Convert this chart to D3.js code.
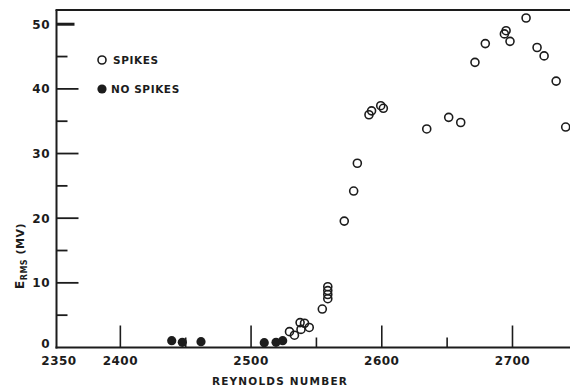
<!DOCTYPE html>
<html>
<head>
<meta charset="utf-8">
<script src="https://cdn.jsdelivr.net/npm/d3@7"></script>
<style>
  body { margin: 0; background: #fff; }
  svg text { font-family: "DejaVu Sans", sans-serif; font-weight: bold; fill: #1c1c1c; }
</style>
</head>
<body>
<svg id="chart" width="570" height="387"></svg>
<script>
// Reynolds number / E_rms (mV)
const spikesRe = [2529.4, 2533.2, 2537.5, 2538.2, 2540.9, 2544.5, 2554.5, 2558.7, 2558.7, 2558.7, 2558.7,
  2571.3, 2578.5, 2581.3, 2590.2, 2592.2, 2599.2, 2601.2, 2634.4, 2651.2, 2660.4, 2671.3, 2679.2,
  2693.8, 2695.1, 2698.1, 2710.4, 2718.8, 2724.2, 2733.4, 2740.7];
const spikesE = [2.45, 1.9, 3.85, 2.8, 3.75, 3.1, 5.95, 9.4, 8.8, 8.2, 7.55,
  19.55, 24.2, 28.5, 36.0, 36.6, 37.4, 37.0, 33.8, 35.6, 34.8, 44.1, 47.0,
  48.5, 49.0, 47.35, 50.96, 46.4, 45.1, 41.2, 34.1];
const noSpikesRe = [2439.3, 2447.4, 2461.7, 2510.1, 2519.1, 2524.2];
const noSpikesE = [1.05, 0.8, 0.9, 0.75, 0.8, 1.05];

const xMajor = [2350, 2400, 2500, 2600, 2700];
const xMinor = [2450, 2550, 2650];
const yMajor = [0, 10, 20, 30, 40, 50];
const yMinor = [5, 15, 25, 35, 45];

const ink = "#1c1c1c";
const svg = d3.select("#chart");

const x = d3.scaleLinear().domain([2350, 2744]).range([55, 570]);
const y = d3.scaleLinear().domain([0, 52.2]).range([347.5, 10]);

const axisX = 56.5;

// frame: left axis, bottom axis, top line
svg.append("line").attr("x1", axisX).attr("x2", axisX).attr("y1", y(52.2)).attr("y2", y(0) + 1)
  .attr("stroke", ink).attr("stroke-width", 2);
svg.append("line").attr("x1", axisX - 1).attr("x2", 570).attr("y1", y(0)).attr("y2", y(0))
  .attr("stroke", ink).attr("stroke-width", 2);
svg.append("line").attr("x1", axisX - 1).attr("x2", 570).attr("y1", y(52.2)).attr("y2", y(52.2))
  .attr("stroke", ink).attr("stroke-width", 1.8);

// y ticks point inwards
yMajor.filter(d => d > 0).forEach(d => {
  svg.append("line").attr("x1", axisX).attr("x2", d == 50 ? axisX + 18 : axisX + 22)
    .attr("y1", y(d)).attr("y2", y(d))
    .attr("stroke", ink).attr("stroke-width", d == 50 ? 3 : 1.8);
});
yMinor.forEach(d => {
  svg.append("line").attr("x1", axisX).attr("x2", axisX + 11)
    .attr("y1", y(d)).attr("y2", y(d)).attr("stroke", ink).attr("stroke-width", 1.8);
});
svg.selectAll(".ylab").data(yMajor).enter().append("text")
  .attr("x", 50).attr("y", d => d == 0 ? y(d) - 3.5 : y(d)).attr("dy", "0.36em")
  .attr("text-anchor", "end").style("font-size", "12px").style("letter-spacing", "0.5px")
  .text(d => d);

// x ticks point upwards
xMajor.filter(d => d > 2350).forEach(d => {
  svg.append("line").attr("x1", x(d)).attr("x2", x(d)).attr("y1", y(0)).attr("y2", y(0) - 22)
    .attr("stroke", ink).attr("stroke-width", 1.6);
});
xMinor.forEach(d => {
  svg.append("line").attr("x1", x(d)).attr("x2", x(d)).attr("y1", y(0)).attr("y2", y(0) - 10)
    .attr("stroke", ink).attr("stroke-width", 1.6);
});
svg.selectAll(".xlab").data(xMajor).enter().append("text")
  .attr("x", d => d == 2350 ? x(d) + 4 : x(d)).attr("y", 364.5)
  .attr("text-anchor", "middle").style("font-size", "12px").style("letter-spacing", "0.5px")
  .text(d => d);

svg.append("text").attr("x", 280).attr("y", 385)
  .attr("text-anchor", "middle").style("font-size", "10.5px").style("letter-spacing", "1.2px")
  .text("REYNOLDS NUMBER");

// y title: E_RMS (MV)
const yt = svg.append("text").attr("transform", "translate(24,256) rotate(-90)")
  .attr("text-anchor", "middle").style("font-size", "11px").style("letter-spacing", "0.5px");
yt.append("tspan").style("font-size", "12px").text("E");
yt.append("tspan").attr("dy", 3).style("font-size", "8px").text("RMS");
yt.append("tspan").attr("dy", -3).text(" (MV)");

// data
svg.selectAll(".nosp").data(noSpikesRe).enter().append("circle")
  .attr("cx", d => x(d)).attr("cy", (d, i) => y(noSpikesE[i])).attr("r", 4.6)
  .attr("fill", ink);
svg.selectAll(".sp").data(spikesRe).enter().append("circle")
  .attr("cx", d => x(d)).attr("cy", (d, i) => y(spikesE[i])).attr("r", 4)
  .attr("fill", "none").attr("stroke", ink).attr("stroke-width", 1.6);

// legend
svg.append("circle").attr("cx", 102).attr("cy", 60).attr("r", 4)
  .attr("fill", "none").attr("stroke", ink).attr("stroke-width", 1.6);
svg.append("text").attr("x", 113).attr("y", 60).attr("dy", "0.36em")
  .style("font-size", "10.5px").style("letter-spacing", "0.6px").text("SPIKES");
svg.append("circle").attr("cx", 102).attr("cy", 89).attr("r", 4.6).attr("fill", ink);
svg.append("text").attr("x", 111).attr("y", 89).attr("dy", "0.36em")
  .style("font-size", "10.5px").style("letter-spacing", "0.6px").text("NO SPIKES");
</script>
</body>
</html>
